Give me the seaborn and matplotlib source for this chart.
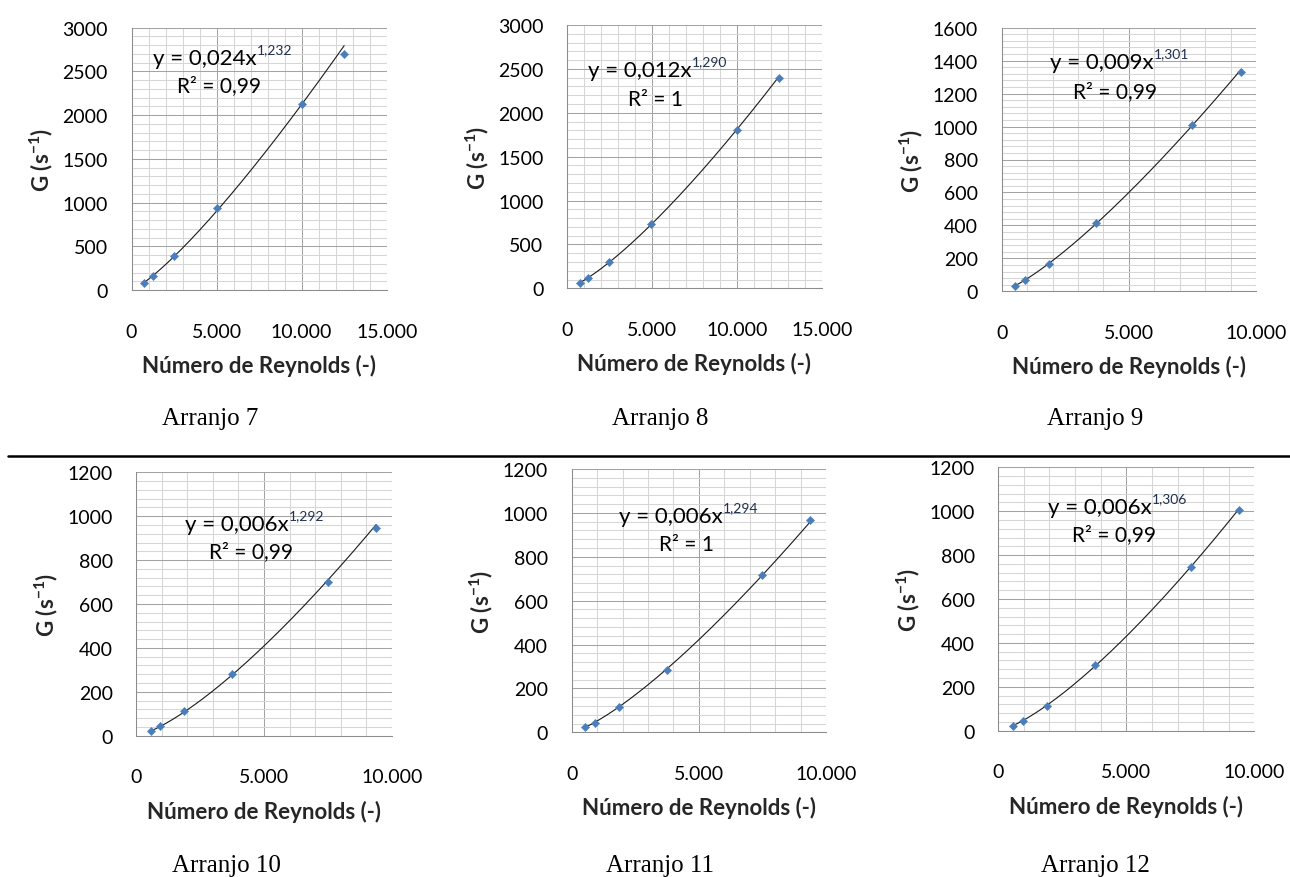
import numpy as np
import matplotlib
matplotlib.use("Agg")
import matplotlib.pyplot as plt
import seaborn as sns
import pandas as pd
from matplotlib.ticker import MultipleLocator, FuncFormatter

# ---------------- data ----------------
captions = ["Arranjo 7", "Arranjo 8", "Arranjo 9", "Arranjo 10", "Arranjo 11", "Arranjo 12"]

re_7 = [750, 1250, 2500, 5000, 10000, 12500]
g_7 = [84, 164, 389, 938, 2123, 2695]
re_8 = [750, 1240, 2495, 4970, 10000, 12500]
g_8 = [61, 122, 300, 737, 1800, 2393]
re_9 = [530, 920, 1860, 3720, 7500, 9400]
g_9 = [34, 69, 168, 417, 1012, 1330]
re_10 = [560, 930, 1870, 3760, 7520, 9390]
g_10 = [20, 43, 111, 281, 702, 948]
re_11 = [530, 905, 1860, 3735, 7500, 9385]
g_11 = [23, 44, 117, 286, 717, 966]
re_12 = [570, 965, 1900, 3775, 7510, 9400]
g_12 = [23, 46, 114, 299, 746, 1007]

eq_coef = ["0,024", "0,012", "0,009", "0,006", "0,006", "0,006"]
eq_exp = ["1,232", "1,290", "1,301", "1,292", "1,294", "1,306"]
r2_text = ["0,99", "1", "0,99", "0,99", "1", "0,99"]

x_max = [15000, 15000, 10000, 10000, 10000, 10000]
y_max = [3000, 3000, 1600, 1200, 1200, 1200]
y_major = [500, 500, 200, 200, 200, 200]

xs = [re_7, re_8, re_9, re_10, re_11, re_12]
ys = [g_7, g_8, g_9, g_10, g_11, g_12]

# ---------------- layout (pixels) ----------------
W, H = 1290, 878
boxes = [
    (131.5, 386.7, 28.7, 291.0),
    (567.0, 821.7, 26.0, 289.3),
    (1001.7, 1256.0, 28.7, 292.3),
    (136.3, 391.7, 473.3, 736.7),
    (571.7, 826.0, 470.0, 733.3),
    (998.3, 1254.3, 468.3, 731.7),
]
eq_pos = [(153, 65), (588, 77), (1050, 69), (185, 531), (619, 523), (1048, 514)]
r2_pos = [(177, 92), (628, 106), (1073, 98), (209, 558), (659, 551), (1072, 541)]
cap_pos = [(210, 425), (660, 425), (1095, 425), (226, 872), (660, 872), (1095, 872)]

sns.set_style("white")
plt.rcParams["font.family"] = ["Lato", "DejaVu Sans"]
plt.rcParams["mathtext.fontset"] = "custom"
plt.rcParams["mathtext.rm"] = "Lato"
plt.rcParams["mathtext.bf"] = "Lato:bold"
plt.rcParams["mathtext.it"] = "Lato:italic"

fig = plt.figure(figsize=(W / 100, H / 100), dpi=100)
fig.patch.set_facecolor("white")


def fx(px):
    return px / W


def fy(py):
    return 1 - py / H


def thousands(v, pos):
    return f"{int(round(v)):,}".replace(",", ".")


MAJOR_C = "#A3A3A3"
MINOR_C = "#D6D6D6"
BLUE = "#4A7EBB"

for i in range(6):
    l, r, t, b = boxes[i]
    ax = fig.add_axes([fx(l), fy(b), (r - l) / W, (b - t) / H])
    ax.set_facecolor("white")
    df = pd.DataFrame({"Re": xs[i], "G": ys[i]})

    # power trend line fitted in log-log space (as Excel does)
    k, c = np.polyfit(np.log(df["Re"]), np.log(df["G"]), 1)
    xf = np.linspace(df["Re"].min(), df["Re"].max(), 200)
    fit = pd.DataFrame({"Re": xf, "G": np.exp(c) * xf ** k})
    sns.lineplot(data=fit, x="Re", y="G", ax=ax, color="#1a1a1a", lw=0.8, zorder=3)
    sns.scatterplot(data=df, x="Re", y="G", ax=ax, marker="D", s=18, color=BLUE,
                    edgecolor=BLUE, linewidth=0.3, zorder=4)

    ax.set_xlim(0, x_max[i])
    ax.set_ylim(0, y_max[i])
    ax.xaxis.set_major_locator(MultipleLocator(5000))
    ax.xaxis.set_minor_locator(MultipleLocator(1000))
    ax.yaxis.set_major_locator(MultipleLocator(y_major[i]))
    ax.yaxis.set_minor_locator(MultipleLocator(y_major[i] / 5))
    ax.xaxis.set_major_formatter(FuncFormatter(thousands))
    ax.yaxis.set_major_formatter(FuncFormatter(lambda v, p: f"{int(round(v))}"))

    ax.grid(which="major", color=MAJOR_C, lw=0.75)
    ax.grid(which="minor", color=MINOR_C, lw=0.75)
    ax.set_axisbelow(True)
    for s in ["top", "right"]:
        ax.spines[s].set_visible(False)
    for s in ["left", "bottom"]:
        ax.spines[s].set_color("#8C8C8C")
        ax.spines[s].set_linewidth(0.75)

    ax.tick_params(axis="both", which="major", direction="out", length=6,
                   width=0.75, color="#8C8C8C", labelsize=14, labelcolor="black")
    ax.tick_params(axis="y", which="major", pad=11)
    ax.tick_params(axis="x", which="major", pad=17.5)
    ax.tick_params(which="minor", length=0)

    w_px = r - l
    h_px = b - t
    ax.set_xlabel("Número de Reynolds (-)", fontsize=16, fontweight="bold")
    ax.xaxis.label.set_va("center")
    ax.xaxis.set_label_coords(0.5, -75 / h_px)
    ax.set_ylabel(r"$\mathbf{G\ (s^{-1})}$", fontsize=16, fontweight="bold")
    ax.yaxis.label.set_va("center")
    ax.yaxis.set_label_coords(-90 / w_px, 0.5)

    # trend line equation
    ex, ey = eq_pos[i]
    t_eq = fig.text(fx(ex), fy(ey), f"y = {eq_coef[i]}x", fontsize=16,
                    ha="left", va="baseline", color="black")
    ax.annotate(eq_exp[i], xy=(1.0, 0.62), xycoords=t_eq, fontsize=10,
                ha="left", va="bottom", color="#1F2F4F")
    rx, ry = r2_pos[i]
    fig.text(fx(rx), fy(ry), f"R² = {r2_text[i]}", fontsize=15,
             ha="left", va="baseline", color="black")

    cx, cy = cap_pos[i]
    fig.text(fx(cx), fy(cy), captions[i], fontsize=18, ha="center",
             va="baseline", family="Liberation Serif", color="black")

# separator line between rows
fig.add_artist(plt.Line2D([fx(8), fx(1290)], [fy(457), fy(457)],
                          color="black", lw=1.8, transform=fig.transFigure))

fig.savefig("out.png", dpi=100, facecolor="white")
